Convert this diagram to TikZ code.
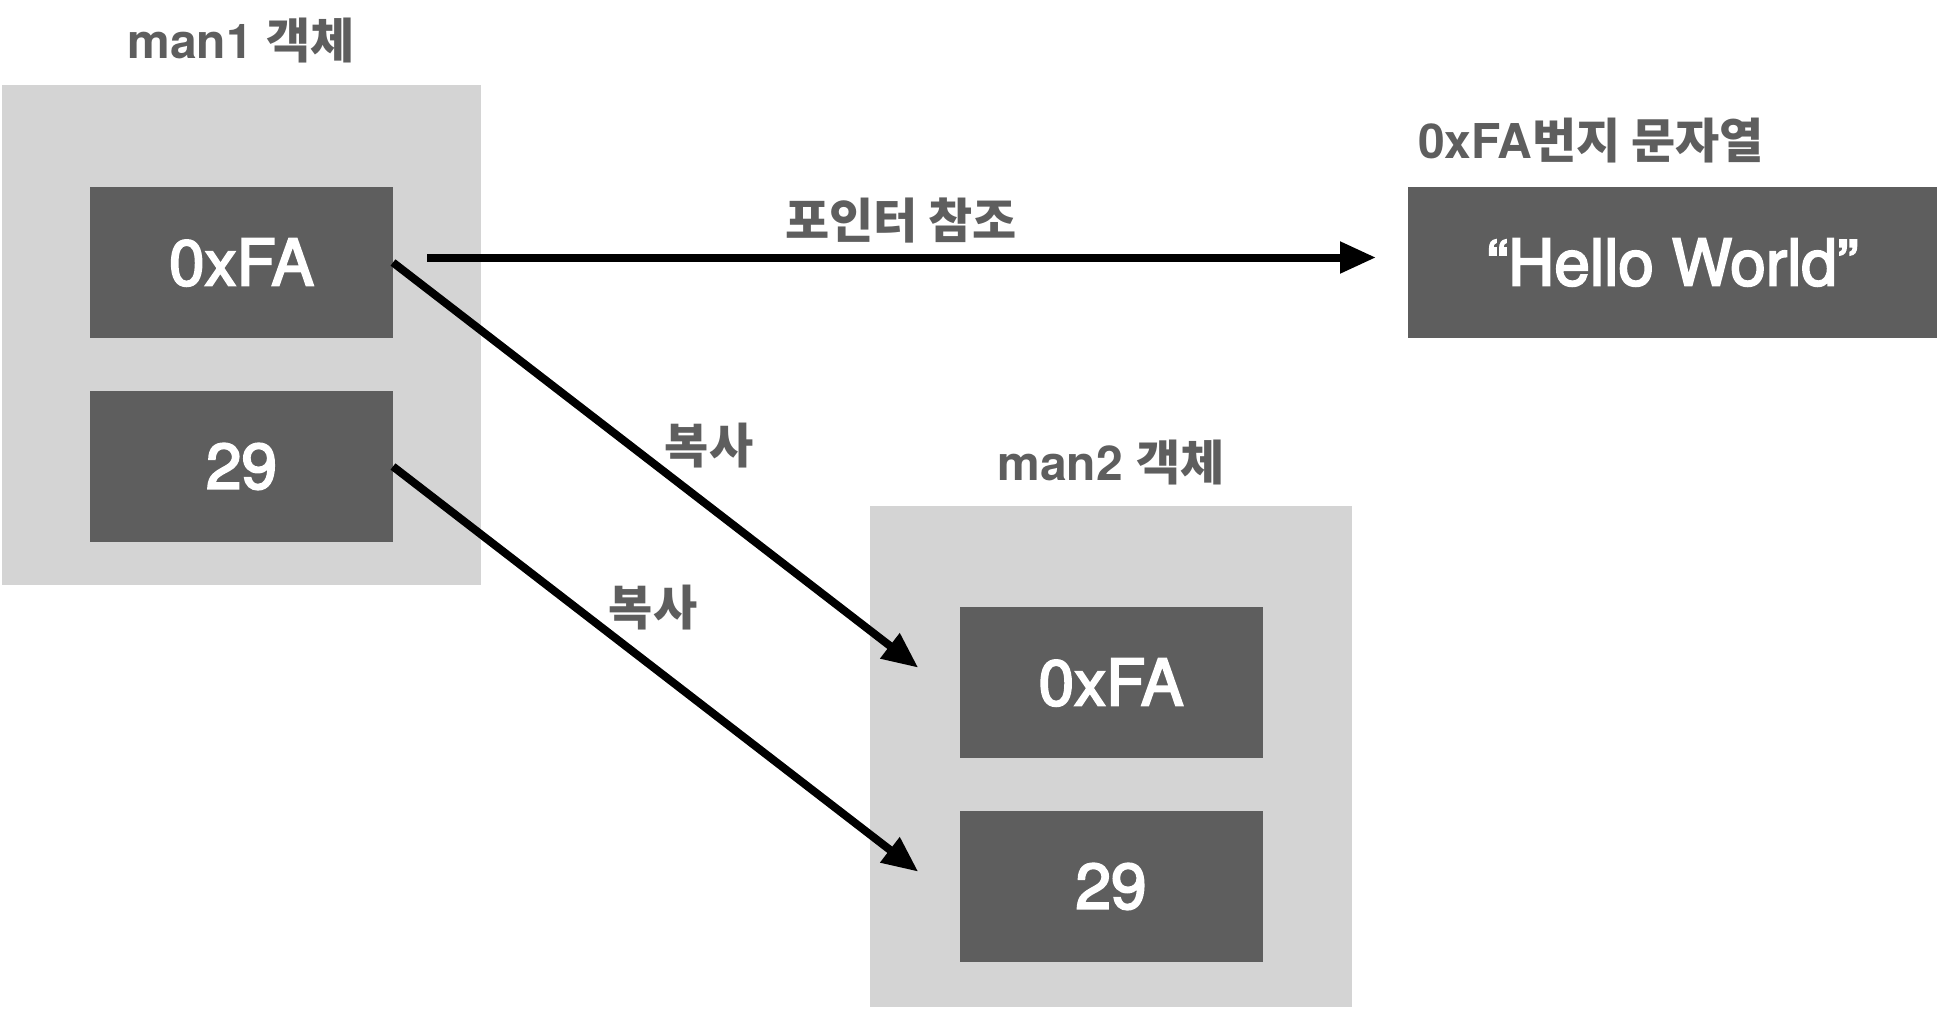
\documentclass[tikz,border=0pt]{standalone}
\usepackage{fontspec}
\setsansfont{TeX Gyre Heros}
\newfontfamily\krfont{Noto Sans CJK KR}
\newfontfamily\cellfont[FakeBold=3]{TeX Gyre Heros}
\usepackage{tikz}
\usetikzlibrary{arrows.meta,positioning}
\definecolor{memgray}{HTML}{D4D4D4}
\definecolor{celldark}{HTML}{5E5E5E}
\newcommand{\kr}[1]{{\krfont\bfseries #1}}

\begin{document}
\begin{tikzpicture}[x=1pt, y=-1pt,
  font=\sffamily,
  obj/.style={rectangle, fill=memgray, inner sep=0pt, outer sep=0pt},
  cell/.style={rectangle, fill=celldark, text=white, minimum width=303pt, minimum height=151pt,
               inner sep=0pt, outer sep=0pt, font=\cellfont\fontsize{64}{70}\selectfont},
  title/.style={text=celldark, inner sep=0pt, anchor=base, font=\sffamily\bfseries\fontsize{48}{54}\selectfont},
  lab/.style={text=celldark, inner sep=0pt, anchor=base, font=\krfont\bfseries\fontsize{48}{54}\selectfont},
  arr/.style={-{Triangle[length=36pt,width=30pt]}, line width=8pt, draw=black}]
\useasboundingbox (0,0) rectangle (1940,1010);
% man1
\node[obj, minimum width=479pt, minimum height=500pt] (m1) at (241.5,335) {};
\node[cell] (a1) at (241.5,262.5) {0xFA};
\node[cell, below=53pt of a1] (a2) {29};
\node[title] (t1) at (241,58) {man1 \kr{객체}};
% man2
\node[obj, minimum width=482pt, minimum height=501pt] (m2) at (1111,756.5) {};
\node[cell] (b1) at (1111,682.5) {0xFA};
\node[cell, below=53pt of b1] (b2) {29};
\node[title] (t2) at (1111,480) {man2 \kr{객체}};
% string
\node[cell, minimum width=529pt] (hw) at (1672.5,262.5) {“Hello World”};
\node[title] (t3) at (1591,158) {0xFA\kr{번지 문자열}};
% arrows
\draw[arr, shorten <=34pt, shorten >=32pt] ([yshift=5pt]a1.east) -- ([yshift=5pt]hw.west);
\node[lab] (ptr) at (901,238) {포인터 참조};
\draw[arr, shorten >=52pt] (a1.east) -- ([yshift=-17pt]b1.west);
\draw[arr, shorten >=52pt] (a2.east) -- ([yshift=-17pt]b2.west);
\node[lab] (cp1) at (709,463) {복사};
\node[lab] (cp2) at (653,625) {복사};
\end{tikzpicture}
\end{document}
